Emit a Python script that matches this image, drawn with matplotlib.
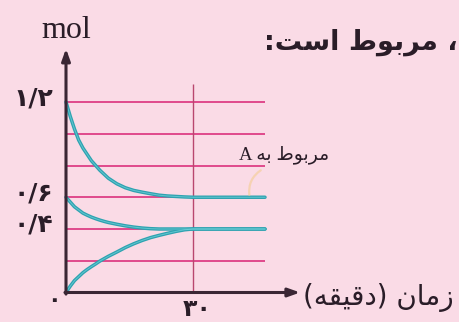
import matplotlib
matplotlib.use("Agg")
import matplotlib.pyplot as plt

# ---------------- data ----------------
t_min = [0, 1, 2, 3, 4, 5, 6, 7, 8, 9, 10, 12, 14, 16, 18, 20, 22, 24, 26, 28, 30, 35, 40, 47]
top_mol = [1.2, 1.11, 1.03, 0.96, 0.91, 0.87, 0.83, 0.80, 0.77, 0.745, 0.72, 0.685, 0.66,
           0.643, 0.632, 0.622, 0.613, 0.608, 0.605, 0.602, 0.60, 0.60, 0.60, 0.60]
mid_mol = [0.60, 0.57, 0.54, 0.52, 0.50, 0.487, 0.475, 0.465, 0.456, 0.448, 0.441, 0.43, 0.42,
           0.412, 0.406, 0.402, 0.40, 0.40, 0.40, 0.40, 0.40, 0.40, 0.40, 0.40]
low_mol = [0.0, 0.04, 0.075, 0.10, 0.125, 0.145, 0.163, 0.18, 0.198, 0.213, 0.228, 0.255, 0.283,
           0.307, 0.328, 0.346, 0.36, 0.373, 0.385, 0.395, 0.40, 0.40, 0.40, 0.40]
grid_levels = [0.2, 0.4, 0.6, 0.8, 1.0, 1.2]
ytick_vals = [0.4, 0.6, 1.2]
ytick_labels = ["۰/۴", "۰/۶", "۱/۲"]
xtick_vals = [30]
xtick_labels = ["۳۰"]
origin_label = "۰"
y_title = "mol"
x_title = "زمان (دقیقه)"
series_label = "مربوط به A"
heading = "، مربوط است:"

# ------------- minimal Arabic shaping for display -------------
FORMS = {
    'ا': ('\uFE8D', '\uFE8E', None, None),
    'ب': ('\uFE8F', '\uFE90', '\uFE91', '\uFE92'),
    'ت': ('\uFE95', '\uFE96', '\uFE97', '\uFE98'),
    'د': ('\uFEA9', '\uFEAA', None, None),
    'ر': ('\uFEAD', '\uFEAE', None, None),
    'ز': ('\uFEAF', '\uFEB0', None, None),
    'س': ('\uFEB1', '\uFEB2', '\uFEB3', '\uFEB4'),
    'ط': ('\uFEC1', '\uFEC2', '\uFEC3', '\uFEC4'),
    'ق': ('\uFED5', '\uFED6', '\uFED7', '\uFED8'),
    'م': ('\uFEE1', '\uFEE2', '\uFEE3', '\uFEE4'),
    'ن': ('\uFEE5', '\uFEE6', '\uFEE7', '\uFEE8'),
    'ه': ('\uFEE9', '\uFEEA', '\uFEEB', '\uFEEC'),
    'و': ('\uFEED', '\uFEEE', None, None),
    'ی': ('\uFBFC', '\uFBFD', '\uFBFE', '\uFBFF'),
}
MIRROR = {'(': ')', ')': '('}


def shape(s):
    out = []
    for i, c in enumerate(s):
        if c not in FORMS:
            out.append(c)
            continue
        p = s[i - 1] if i > 0 else ''
        n = s[i + 1] if i + 1 < len(s) else ''
        pj = p in FORMS and FORMS[p][2] is not None
        nj = n in FORMS and FORMS[c][2] is not None
        iso, fin, ini, med = FORMS[c]
        if pj and nj:
            out.append(med)
        elif pj:
            out.append(fin)
        elif nj:
            out.append(ini)
        else:
            out.append(iso)
    return ''.join(out)


def visual(s):
    shaped = shape(s)
    runs = []
    cur = ''
    cur_ltr = None
    for c in shaped:
        ltr = c.isascii() and c.isalnum()
        if cur_ltr is None or ltr == cur_ltr:
            cur += c
        else:
            runs.append((cur, cur_ltr))
            cur = c
        cur_ltr = ltr
    if cur:
        runs.append((cur, cur_ltr))
    res = []
    for txt, ltr in reversed(runs):
        if ltr:
            res.append(txt)
        else:
            res.append(''.join(MIRROR.get(c, c) for c in reversed(txt)))
    return ''.join(res)


# ---------------- figure ----------------
W, H = 460, 322
BG = '#fadbe6'
GRID = '#e04a8c'
VLINE = '#b9476f'
AX = '#3a2634'
CURVE = '#2ea2b0'
TXT = '#2a1d28'

fig = plt.figure(figsize=(W / 100, H / 100), dpi=100)
fig.patch.set_facecolor(BG)

# axes box: x from 66px (t=0) to 265px (t=47); y from 292.5px (0) to 102px (1.2)
x0, x1 = 66, 265
y0, y1 = 292.5, 102
ax = fig.add_axes([x0 / W, (H - y0) / H, (x1 - x0) / W, (y0 - y1) / H])
ax.set_xlim(0, 47)
ax.set_ylim(0, 1.2)
ax.patch.set_alpha(0)
for sp in ax.spines.values():
    sp.set_visible(False)
ax.set_xticks([])
ax.set_yticks([])

# grid lines
ax.hlines(grid_levels, 0, 47, colors=GRID, lw=1.4, clip_on=False, zorder=1)
ax.vlines(xtick_vals, 0, 1.315, colors=VLINE, lw=1.0, clip_on=False, zorder=1)

# curves
for ys in (top_mol, mid_mol, low_mol):
    ax.plot(t_min, ys, color=CURVE, lw=2.5, solid_capstyle='round', solid_joinstyle='round',
            clip_on=False, zorder=3)
    ax.plot(t_min, ys, color='#8be3ea', lw=0.7, alpha=0.55, clip_on=False, zorder=4)

# axes arrows
ax.annotate('', xy=(0, 1.536), xytext=(0, -0.01), annotation_clip=False,
            arrowprops=dict(arrowstyle='-|>,head_length=0.7,head_width=0.25', color=AX, lw=2.2,
                            shrinkA=0, shrinkB=0), zorder=5)
ax.annotate('', xy=(55.3, 0), xytext=(-0.25, 0), annotation_clip=False,
            arrowprops=dict(arrowstyle='-|>,head_length=0.7,head_width=0.25', color=AX, lw=2.2,
                            shrinkA=0, shrinkB=0), zorder=5)

# tick labels
for v, lab in zip(ytick_vals, ytick_labels):
    ax.annotate(lab, xy=(0, v), xytext=(-13, 4), textcoords='offset pixels',
                ha='right', va='center', fontsize=18, fontweight='bold', color=TXT,
                family='DejaVu Sans', annotation_clip=False)
for t, lab in zip(xtick_vals, xtick_labels):
    ax.annotate(lab, xy=(t, 0), xytext=(4, -16), textcoords='offset pixels',
                ha='center', va='center', fontsize=17, fontweight='bold', color=TXT,
                family='DejaVu Sans', annotation_clip=False)
ax.annotate(origin_label, xy=(0, 0), xytext=(-12, -7), textcoords='offset pixels',
            ha='center', va='center', fontsize=16, fontweight='bold', color=TXT,
            family='DejaVu Sans', annotation_clip=False)

# axis titles
ax.text(0.1, 1.605, y_title, ha='center', va='baseline', fontsize=23, color=TXT,
        family='Liberation Serif')
ax.annotate(visual(x_title), xy=(55.3, 0), xytext=(3, -5), textcoords='offset pixels',
            ha='left', va='center', fontsize=20, color=TXT, family='DejaVu Sans',
            annotation_clip=False)

# series label and pointer
ax.text(40.8, 0.87, visual(series_label), ha='left', va='center', fontsize=13.5, color=TXT,
        family=['Liberation Serif', 'DejaVu Sans'])
ax.annotate('', xy=(43.3, 0.615), xytext=(46.0, 0.77), annotation_clip=False,
            arrowprops=dict(arrowstyle='-', color='#f4cc90', lw=1.6, alpha=0.6,
                            connectionstyle='arc3,rad=0.3', shrinkA=0, shrinkB=0))

# heading (cut at right edge)
fig.text(458 / W, 1 - 42 / H, visual(heading), ha='right', va='center', fontsize=19.5,
         fontweight='bold', color=TXT, family='DejaVu Sans')

fig.savefig('out.png', dpi=100, facecolor=BG)
